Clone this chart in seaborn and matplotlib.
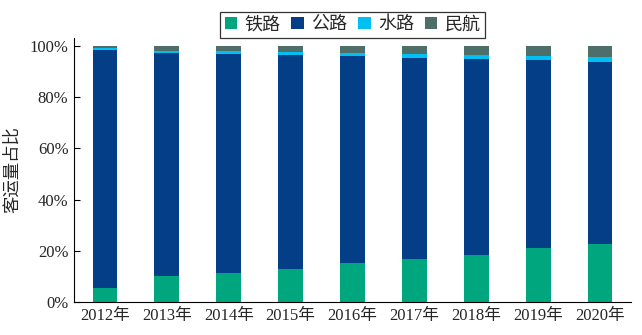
import matplotlib
matplotlib.use("Agg")
import matplotlib.pyplot as plt
import seaborn as sns
import pandas as pd
import numpy as np
from matplotlib.patches import Patch

years = ["2012年", "2013年", "2014年", "2015年", "2016年", "2017年", "2018年", "2019年", "2020年"]
rail = [5.5, 10.2, 11.3, 12.9, 15.2, 16.8, 18.4, 21.1, 22.7]
road = [92.9, 87.1, 85.6, 83.6, 80.9, 78.5, 76.5, 73.4, 71.1]
water = [0.6, 0.7, 1.1, 1.2, 1.2, 1.6, 1.6, 1.6, 1.9]
air = [1.0, 2.0, 2.0, 2.3, 2.7, 3.1, 3.5, 3.9, 4.3]
series_names = ["铁路", "公路", "水路", "民航"]
colors = ["#00A67E", "#033E87", "#00BFF2", "#4E6E6A"]

sns.set_theme(style="white")
plt.rcParams['font.family'] = ['Liberation Serif', 'Noto Sans CJK SC']

fig = plt.figure(figsize=(6.42, 3.35), dpi=100)
ax = fig.add_axes([0.1153, 0.0985, 0.8676, 0.7885])

series = [rail, road, water, air]
bottom = np.zeros(len(years))
for name, vals, c in zip(series_names, series, colors):
    v = np.array(vals) / 100.0
    df = pd.DataFrame({"year": years, "val": v})
    sns.barplot(data=df, x="year", y="val", color=c, width=0.4, bottom=bottom,
                saturation=1, ax=ax, linewidth=0, errorbar=None)
    bottom = bottom + v

ax.set_xlim(-0.5, 8.5)
ax.set_ylim(0, 1.031)
ax.set_yticks([0, 0.2, 0.4, 0.6, 0.8, 1.0])
ax.set_yticklabels(["0%", "20%", "40%", "60%", "80%", "100%"])
ax.set_xlabel("")
ax.set_ylabel("")
fig.text(13 / 642, 0.4925, "客运量占比", rotation=90, ha="center", va="center", fontsize=12.5)
ax.tick_params(axis='y', direction='in', length=4, width=0.8, labelsize=12, pad=4, left=True, color='black')
ax.tick_params(axis='x', length=0, labelsize=12, pad=4)
for s in ["top", "right"]:
    ax.spines[s].set_visible(False)
for s in ["left", "bottom"]:
    ax.spines[s].set_color("black")
    ax.spines[s].set_linewidth(0.8)

handles = [Patch(facecolor=c, edgecolor='none') for c in colors]
leg = ax.legend(handles, series_names, loc="lower center", bbox_to_anchor=(0.5, 1.0), ncol=4,
                frameon=True, fancybox=False, fontsize=13, handlelength=0.7, handleheight=0.7,
                handletextpad=0.4, columnspacing=0.6, borderpad=0.25, borderaxespad=0.0)
leg.get_frame().set_edgecolor("black")
leg.get_frame().set_linewidth(0.9)

fig.savefig("out.png", dpi=100)
